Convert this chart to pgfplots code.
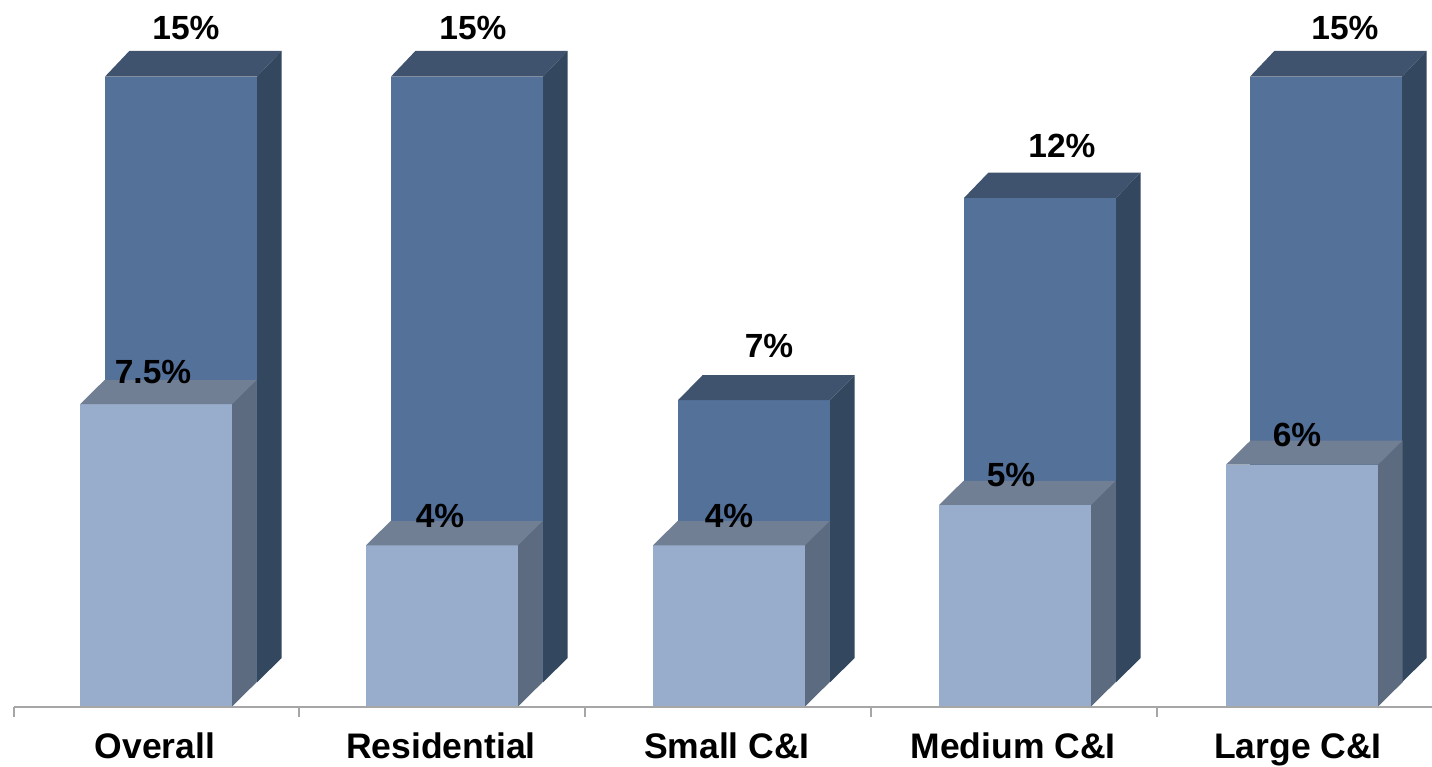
\documentclass[border=0pt]{standalone}
\usepackage{pgfplots}
\pgfplotsset{compat=1.18}
\usepackage{fontspec}
\setmainfont{Liberation Sans}
\definecolor{backF}{HTML}{54719A}
\definecolor{backS}{HTML}{33475F}
\definecolor{backT}{HTML}{3F536E}
\definecolor{frontF}{HTML}{98ADCB}
\definecolor{frontS}{HTML}{5C6B7F}
\definecolor{frontT}{HTML}{717F94}
\definecolor{axisgray}{HTML}{A6A6A6}
% #1 colour prefix, #2 left, #3 left+depth, #4 right, #5 right+depth, #6 base, #7 base+depth, #8 value, #9 value+depth
\newcommand{\cube}[9]{%
  \addplot[forget plot,no markers,draw=none,fill=#1F] coordinates {(#2,#6) (#4,#6) (#4,#8) (#2,#8)} --cycle;
  \addplot[forget plot,no markers,draw=none,fill=#1S] coordinates {(#4,#6) (#5,#7) (#5,#9) (#4,#8)} --cycle;
  \addplot[forget plot,no markers,draw=none,fill=#1T] coordinates {(#2,#8) (#3,#9) (#5,#9) (#4,#8)} --cycle;
}
\newcommand{\lab}[3]{\node[font=\bfseries\fontsize{33.5}{36}\selectfont,inner sep=0pt,anchor=center] at (axis cs:#1,#2) {#3};}
\begin{document}
\begin{tikzpicture}[x=1pt,y=1pt]
\path[use as bounding box] (-14pt,-59.5pt) rectangle (1418pt,706.5pt);
\begin{axis}[
  at={(0pt,0pt)}, anchor=south west,
  scale only axis, width=1418pt, height=705.25pt,
  xmin=14, xmax=1432, ymin=0, ymax=17.5,
  axis x line*=bottom, axis y line=none,
  axis on top, clip=false,
  xtick={155,441,727,1013,1298},
  xticklabels={Overall,Residential,Small C\&I,Medium C\&I,Large C\&I},
  minor xtick={14,299,585,871,1157},
  major tick length=0pt, minor tick length=10pt,
  tick align=outside,
  every tick/.style={axisgray,line width=1.6pt},
  x axis line style={axisgray,line width=2pt,-},
  xticklabel style={font=\bfseries\fontsize{35.5}{38}\selectfont,anchor=north,inner sep=0pt,text height=25pt,text depth=7pt,yshift=-26.5pt},
]
% back series (15, 15, 7, 12, 15)
\cube{back}{105}{129.5}{257}{281.5}{0.6}{1.2}{15.63}{16.27}
\cube{back}{391}{415.5}{543}{567.5}{0.6}{1.2}{15.63}{16.27}
\cube{back}{678}{702.5}{830}{854.5}{0.6}{1.2}{7.6}{8.22}
\cube{back}{964}{988.5}{1116}{1140.5}{0.6}{1.2}{12.62}{13.25}
\cube{back}{1250}{1274.5}{1402}{1426.5}{0.6}{1.2}{15.63}{16.27}
% front series (7.5, 4, 4, 5, 6)
\cube{front}{80}{104.5}{232}{256.5}{0}{0.6}{7.5}{8.1}
\cube{front}{366}{390.5}{518}{542.5}{0}{0.6}{4}{4.6}
\cube{front}{653}{677.5}{805}{829.5}{0}{0.6}{4}{4.6}
\cube{front}{939}{963.5}{1091}{1115.5}{0}{0.6}{5}{5.6}
\cube{front}{1226}{1250.5}{1378}{1402.5}{0}{0.6}{6}{6.6}
% data labels
\lab{186}{16.84}{15\%}
\lab{473}{16.84}{15\%}
\lab{769}{8.94}{7\%}
\lab{1062}{13.92}{12\%}
\lab{1345}{16.84}{15\%}
\lab{153}{8.30}{7.5\%}
\lab{440}{4.73}{4\%}
\lab{729}{4.73}{4\%}
\lab{1011}{5.74}{5\%}
\lab{1297}{6.73}{6\%}
\end{axis}
\end{tikzpicture}
\end{document}
